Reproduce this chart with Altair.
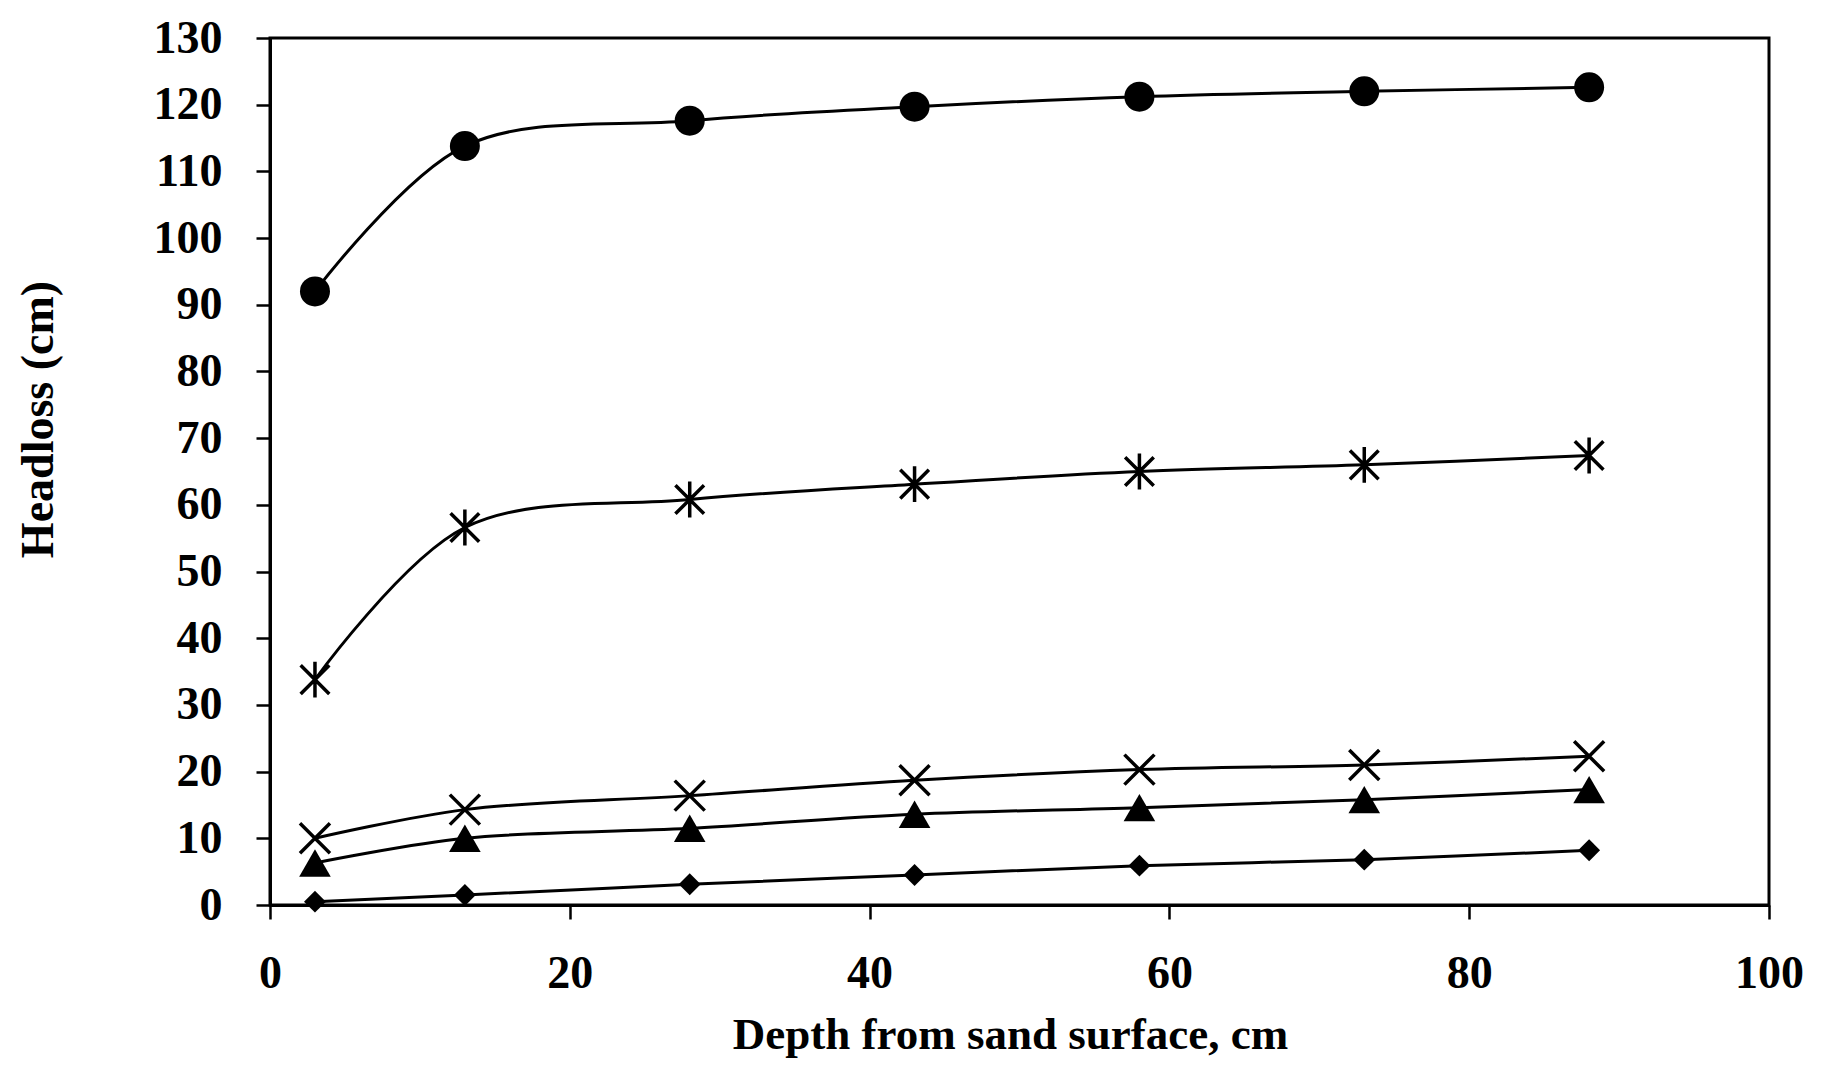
import altair as alt
import pandas as pd

# Depth from sand surface (cm)
depth = [3, 13, 28, 43, 58, 73, 88]

# Headloss (cm) for each run
headloss_circle = [92.0, 113.8, 117.6, 119.7, 121.2, 122.0, 122.6]
headloss_asterisk = [33.8, 56.6, 60.8, 63.1, 65.0, 66.0, 67.4]
headloss_cross = [10.0, 14.3, 16.4, 18.7, 20.3, 21.0, 22.3]
headloss_triangle = [6.3, 10.0, 11.5, 13.6, 14.6, 15.8, 17.3]
headloss_diamond = [0.5, 1.5, 3.1, 4.5, 5.9, 6.8, 8.2]

series_names = ["circle", "asterisk", "cross", "triangle", "diamond"]
series_values = [headloss_circle, headloss_asterisk, headloss_cross,
                 headloss_triangle, headloss_diamond]

x_ticks = [0, 20, 40, 60, 80, 100]
y_ticks = list(range(0, 131, 10))

rows = []
for name, vals in zip(series_names, series_values):
    for d, v in zip(depth, vals):
        rows.append({"depth": d, "headloss": v, "series": name})
df = pd.DataFrame(rows)

FONT = "Liberation Serif"

x_enc = alt.X(
    "depth:Q",
    scale=alt.Scale(domain=[0, 100], nice=False, zero=False),
    axis=alt.Axis(
        values=x_ticks,
        title="Depth from sand surface, cm",
        titleFontSize=45,
        titleY=143,
        titleX=740,
        titleBaseline="alphabetic",
        titleAlign="center",
        labelPadding=32,
        labelFlush=False,
        tickSize=14,
    ),
)
y_enc = alt.Y(
    "headloss:Q",
    scale=alt.Scale(domain=[0, 130], nice=False),
    axis=alt.Axis(
        values=y_ticks,
        title="Headloss (cm)",
        titleFontSize=46,
        titleX=-208,
        titleY=381,
        titleAngle=270,
        titleBaseline="bottom",
        titleAlign="center",
        labelPadding=34,
        labelFlush=False,
        tickSize=14,
    ),
)

base = alt.Chart(df)

lines = base.mark_line(interpolate="catmull-rom", color="black", strokeWidth=3).encode(
    x=x_enc, y=y_enc, detail="series:N"
)

X_PATH = "M-1,-1L1,1M-1,1L1,-1"
ASTERISK_PATH = "M-1,-1L1,1M-1,1L1,-1M0,-1.25L0,1.25"

marker_styles = {
    "circle": dict(shape="circle", filled=True, size=900, strokeWidth=0),
    "asterisk": dict(shape=ASTERISK_PATH, filled=False, size=820, strokeWidth=3.5),
    "cross": dict(shape=X_PATH, filled=False, size=900, strokeWidth=3.5),
    "triangle": dict(shape="triangle-up", filled=True, size=1000, strokeWidth=0),
    "diamond": dict(shape="diamond", filled=True, size=480, strokeWidth=0),
}

layers = [lines]
for name in series_names:
    st = marker_styles[name]
    layers.append(
        base.transform_filter(alt.datum.series == name)
        .mark_point(color="black", opacity=1, **st)
        .encode(x=x_enc, y=y_enc)
    )

chart = (
    alt.layer(*layers)
    .properties(
        width=1499,
        height=867,
        autosize=alt.AutoSizeParams(type="none"),
        padding={"left": 262, "top": 30, "right": 40, "bottom": 160},
        background="white",
    )
    .configure_view(stroke="black", strokeWidth=3)
    .configure_axis(
        domainColor="black",
        domainWidth=3,
        tickColor="black",
        tickWidth=2.5,
        grid=False,
        labelFont=FONT,
        labelFontWeight="bold",
        labelFontSize=46,
        labelColor="black",
        titleFont=FONT,
        titleFontWeight="bold",
        titleColor="black",
    )
)

chart.save("out.html", embed_options={"renderer": "svg", "actions": False})
